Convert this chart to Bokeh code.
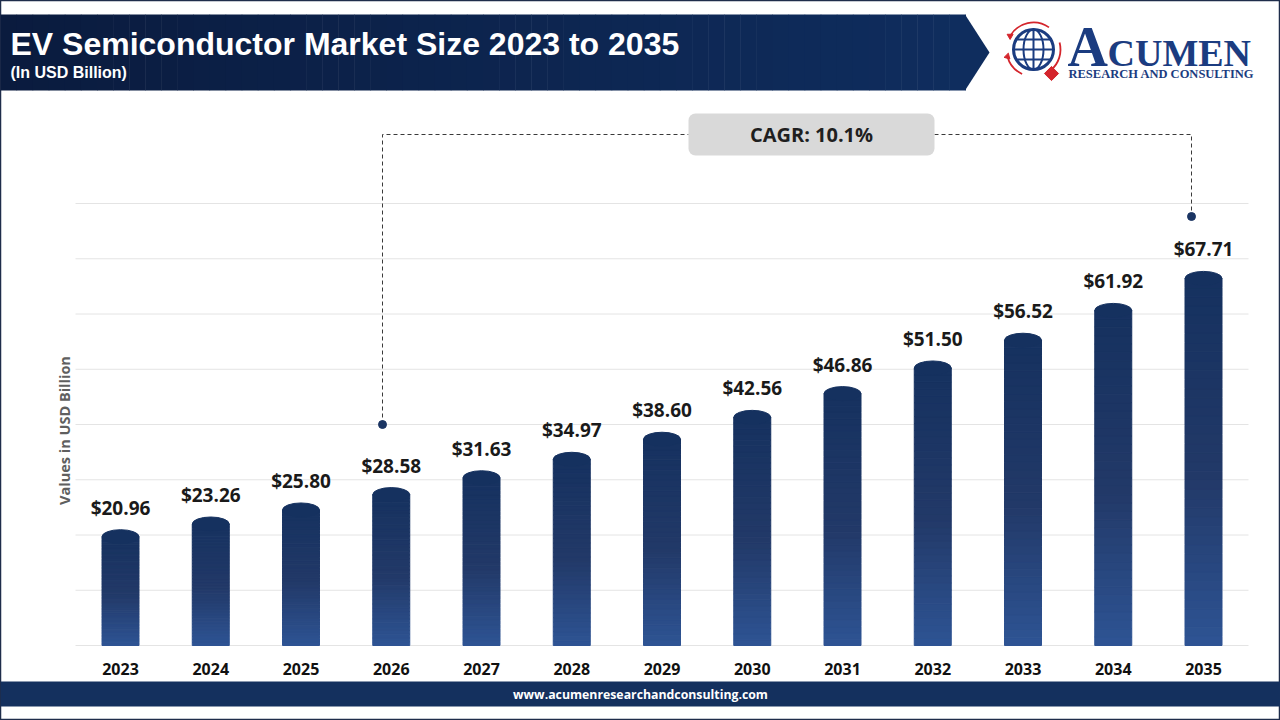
import numpy as np
from bokeh.plotting import figure
from bokeh.models import Range1d
from bokeh.core.properties import value
from bokeh.embed import file_html
from bokeh.resources import INLINE

# ---------------- data ----------------
years = ["2023", "2024", "2025", "2026", "2027", "2028", "2029",
         "2030", "2031", "2032", "2033", "2034", "2035"]
values = [20.96, 23.26, 25.80, 28.58, 31.63, 34.97, 38.60,
          42.56, 46.86, 51.50, 56.52, 61.92, 67.71]
grid_ticks = [0, 10, 20, 30, 40, 50, 60, 70, 80]
title = "EV Semiconductor Market Size 2023 to 2035"
subtitle = "(In USD Billion)"
y_label = "Values in USD Billion"
cagr_text = "CAGR: 10.1%"
footer = "www.acumenresearchandconsulting.com"

# ---------------- layout constants ----------------
W, H = 1280, 720
BASE_PX = 645.0          # pixel row of value 0
PX_PER_UNIT = 5.525      # pixels per billion
FIRST_PX = 120.0         # pixel column of first bar centre
STEP_PX = 90.25          # pixel distance between bars
BAR_W = 37.0 / STEP_PX   # bar width in category units
CAP_PX = 14.0            # height of rounded cap
NAVY = "#14305e"


def Y(py):
    """pixel row (from top) -> decoration y coordinate"""
    return H - py


def lerp_color(stops, t):
    for (t0, c0), (t1, c1) in zip(stops[:-1], stops[1:]):
        if t <= t1:
            f = (t - t0) / (t1 - t0) if t1 > t0 else 0
            c = [int(round(a + (b - a) * f)) for a, b in zip(c0, c1)]
            return "#%02x%02x%02x" % tuple(c)
    c = stops[-1][1]
    return "#%02x%02x%02x" % tuple(c)


bar_stops = [(0.0, (46, 84, 148)), (0.45, (34, 57, 104)), (1.0, (21, 49, 95))]

p = figure(width=W, height=H,
           x_range=Range1d(-FIRST_PX / STEP_PX, (W - FIRST_PX) / STEP_PX),
           y_range=Range1d(-(H - BASE_PX) / PX_PER_UNIT, BASE_PX / PX_PER_UNIT),
           min_border=0, toolbar_location=None, output_backend="svg",
           x_axis_location=None, y_axis_location=None,
           background_fill_color="white", border_fill_color="white",
           outline_line_color="#1f2d4b", outline_line_width=1.5)
p.grid.visible = False
p.extra_x_ranges = {"px": Range1d(0, W)}
p.extra_y_ranges = {"py": Range1d(0, H)}
PX = dict(x_range_name="px", y_range_name="py")

# ---------------- header banner ----------------
n_strips = 60
edges = np.linspace(0, 965, n_strips + 1)
hdr_stops = [(0.0, (10, 27, 62)), (1.0, (15, 45, 94))]
p.quad(left=edges[:-1], right=edges[1:] + 0.5, top=Y(14), bottom=Y(90),
       fill_color=[lerp_color(hdr_stops, i / (n_strips - 1)) for i in range(n_strips)],
       line_color=None, **PX)
p.patch(x=[964.5, 989, 964.5], y=[Y(14), Y(52), Y(90)],
        fill_color="#0f2d5e", line_color=None, **PX)
p.text(x=[10], y=[Y(43)], text=[title], text_font=value("Liberation Sans"),
       text_font_style="bold", text_font_size="32px", text_color="white",
       text_baseline="middle", text_align="left", **PX)
p.text(x=[10], y=[Y(72)], text=[subtitle], text_font=value("Liberation Sans"),
       text_font_style="bold", text_font_size="16px", text_color="white",
       text_baseline="middle", text_align="left", **PX)

# ---------------- logo ----------------
LOGO_BLUE = "#1b3c80"
RED = "#d4252c"
gx, gy, gr = 1033, Y(49), 20
p.circle(x=[gx], y=[gy], radius=gr, fill_color="white", line_color=LOGO_BLUE,
         line_width=3, **PX)
p.ellipse(x=[gx], y=[gy], width=20, height=2 * gr, fill_color=None,
          line_color=LOGO_BLUE, line_width=2, **PX)
p.segment(x0=[gx], x1=[gx], y0=[gy - gr], y1=[gy + gr], line_color=LOGO_BLUE,
          line_width=2, **PX)
for d in (-10, 0, 10):
    hw = (gr ** 2 - d ** 2) ** 0.5
    p.segment(x0=[gx - hw], x1=[gx + hw], y0=[gy + d], y1=[gy + d],
              line_color=LOGO_BLUE, line_width=2, **PX)
p.arc(x=[gx, gx, gx], y=[gy, gy, gy], radius=27,
      start_angle=[np.radians(55), np.radians(-50), np.radians(195)],
      end_angle=[np.radians(150), np.radians(15), np.radians(245)],
      line_color=RED, line_width=1.8, **PX)
p.scatter(x=[gx + 27 * np.cos(np.radians(150)), gx + 27 * np.cos(np.radians(-50)),
             gx + 27 * np.cos(np.radians(195))],
          y=[gy + 27 * np.sin(np.radians(150)), gy + 27 * np.sin(np.radians(-50)),
             gy + 27 * np.sin(np.radians(195))],
          marker="triangle", size=6, angle=[np.radians(60), np.radians(-140), np.radians(105)],
          fill_color=RED, line_color=RED, **PX)
p.scatter(x=[1051], y=[Y(73)], marker="square", size=10, angle=np.radians(45),
          fill_color=RED, line_color=RED, **PX)
p.text(x=[1067], y=[Y(46)], text=["A"], text_font=value("Liberation Serif"),
       text_font_style="bold", text_font_size="56px", text_color=LOGO_BLUE,
       text_baseline="middle", **PX)
p.text(x=[1107], y=[Y(52)], text=["CUMEN"], text_font=value("Liberation Serif"),
       text_font_style="bold", text_font_size="38px", text_color=LOGO_BLUE,
       text_baseline="middle", **PX)
p.text(x=[1068], y=[Y(73.5)], text=["RESEARCH AND CONSULTING"],
       text_font=value("Liberation Serif"), text_font_style="bold",
       text_font_size="12.5px", text_color=LOGO_BLUE, text_baseline="middle", **PX)

# ---------------- grid lines ----------------
p.segment(x0=75, x1=1248, y0=grid_ticks, y1=grid_ticks, line_color="#e4e4e4",
          line_width=1, x_range_name="px")

# ---------------- bars (vertical gradient) ----------------
cap_off = (CAP_PX / 2) / PX_PER_UNIT
N = 40
xs, bots, tops, cols = [], [], [], []
for i, v in enumerate(values):
    body = v - cap_off
    for k in range(N):
        xs.append(i)
        bots.append(body * k / N)
        tops.append(body * (k + 1) / N)
        cols.append(lerp_color(bar_stops, (k + 0.5) / N * body / v))
p.vbar(x=xs, width=BAR_W, bottom=bots, top=tops, fill_color=cols,
       line_color=cols, line_width=1)
top_col = lerp_color(bar_stops, 1.0)
p.ellipse(x=list(range(len(values))), y=[v - cap_off for v in values],
          width=BAR_W, height=CAP_PX, height_units="screen",
          fill_color=top_col, line_color=top_col, line_width=1)

# value labels
p.text(x=list(range(len(values))), y=values, text=["$%.2f" % v for v in values],
       y_offset=-22, text_align="center", text_baseline="middle",
       text_font=value("Open Sans"), text_font_style="bold",
       text_font_size="19px", text_color="#1a1a1a")

# category labels
p.text(x=list(range(len(years))), y=[Y(668)] * len(years), text=years,
       text_align="center", text_baseline="middle", text_font=value("Open Sans"),
       text_font_style="bold", text_font_size="16px", text_color="#111111",
       y_range_name="py")

# y-axis title
p.text(x=[64], y=[Y(430)], text=[y_label], angle=np.pi / 2, text_align="center",
       text_baseline="middle", text_font=value("Open Sans"), text_font_style="bold",
       text_font_size="14.5px", text_color="#5f5f5f", **PX)

# ---------------- CAGR annotation ----------------
p.multi_line(xs=[[382, 382, 688], [934, 1191, 1191]],
             ys=[[Y(424), Y(134), Y(134)], [Y(134), Y(134), Y(216)]],
             line_color="#3a3a3a", line_width=1, line_dash="4 3", **PX)
p.scatter(x=[382, 1191], y=[Y(424), Y(216)], size=8, fill_color="#1b3563",
          line_color="#1b3563", **PX)
p.quad(left=688, right=934, top=Y(113), bottom=Y(155), border_radius=7,
       fill_color="#d9d9d9", line_color=None, **PX)
p.text(x=[811], y=[Y(134)], text=[cagr_text], text_align="center",
       text_baseline="middle", text_font=value("Open Sans"), text_font_style="bold",
       text_font_size="20px", text_color="#1f1f1f", **PX)

# ---------------- footer ----------------
p.quad(left=0, right=W, top=Y(681), bottom=Y(706), fill_color=NAVY,
       line_color=None, **PX)
p.text(x=[640], y=[Y(693.5)], text=[footer], text_align="center",
       text_baseline="middle", text_font=value("Open Sans"), text_font_style="bold",
       text_font_size="12.3px", text_color="white", **PX)

open("out.html", "w").write(file_html(p, INLINE))
